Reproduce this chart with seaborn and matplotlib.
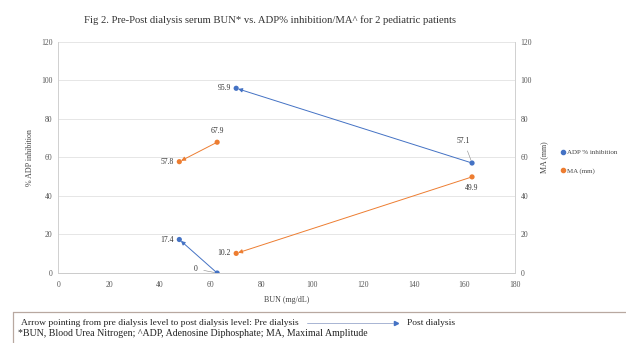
"""Pre/post dialysis BUN vs ADP% inhibition and MA for two pediatric patients."""

import matplotlib
matplotlib.use("Agg")
import matplotlib.pyplot as plt
import pandas as pd
import seaborn as sns

# BUN (mg/dL) pre and post dialysis, per patient
BUN_PRE = [163.0, 62.6]
BUN_POST = [70.1, 47.7]
ADP_PRE = [57.1, 0.0]
ADP_POST = [95.9, 17.4]
MA_PRE = [49.9, 67.9]
MA_POST = [10.2, 57.8]

BLUE = "#4472C4"
ORANGE = "#ED7D31"

sns.set_theme(style="white")
plt.rcParams["font.family"] = ["Liberation Serif", "DejaVu Serif"]

fig = plt.figure(figsize=(6.26, 3.43), dpi=100)
ax = fig.add_axes([0.093, 0.204, 0.730, 0.674])
ax2 = ax.twinx()

adp = pd.DataFrame({"bun": BUN_PRE + BUN_POST, "val": ADP_PRE + ADP_POST})
ma = pd.DataFrame({"bun": BUN_PRE + BUN_POST, "val": MA_PRE + MA_POST})

sns.scatterplot(data=adp, x="bun", y="val", ax=ax, color=BLUE, s=14,
                edgecolor="none", zorder=4)
sns.scatterplot(data=ma, x="bun", y="val", ax=ax2, color=ORANGE, s=14,
                edgecolor="none", zorder=4)

for i in range(2):
    ax.annotate("", xy=(BUN_POST[i], ADP_POST[i]), xytext=(BUN_PRE[i], ADP_PRE[i]),
                arrowprops=dict(arrowstyle="-|>", color=BLUE, lw=0.7,
                                mutation_scale=6, shrinkA=0, shrinkB=1.5))
    ax2.annotate("", xy=(BUN_POST[i], MA_POST[i]), xytext=(BUN_PRE[i], MA_PRE[i]),
                 arrowprops=dict(arrowstyle="-|>", color=ORANGE, lw=0.7,
                                 mutation_scale=6, shrinkA=0, shrinkB=1.5))

lab = dict(fontsize=5.5, color="#333333")
ax.annotate(f"{ADP_POST[0]}", (BUN_POST[0], ADP_POST[0]), xytext=(-4, 0),
            textcoords="offset points", ha="right", va="center", **lab)
ax.annotate(f"{ADP_PRE[0]}", (BUN_PRE[0], ADP_PRE[0]), xytext=(-6, 13),
            textcoords="offset points", ha="center", va="bottom",
            arrowprops=dict(arrowstyle="-", color="#888888", lw=0.4), **lab)
ax.annotate(f"{ADP_POST[1]}", (BUN_POST[1], ADP_POST[1]), xytext=(-4, 0),
            textcoords="offset points", ha="right", va="center", **lab)
ax.annotate(f"{ADP_PRE[1]:g}", (BUN_PRE[1], ADP_PRE[1]), xytext=(-14, 3),
            textcoords="offset points", ha="right", va="center",
            arrowprops=dict(arrowstyle="-", color="#888888", lw=0.4), **lab)
ax2.annotate(f"{MA_PRE[0]}", (BUN_PRE[0], MA_PRE[0]), xytext=(0, -5),
             textcoords="offset points", ha="center", va="top", **lab)
ax2.annotate(f"{MA_POST[0]}", (BUN_POST[0], MA_POST[0]), xytext=(-4, 0),
             textcoords="offset points", ha="right", va="center", **lab)
ax2.annotate(f"{MA_PRE[1]}", (BUN_PRE[1], MA_PRE[1]), xytext=(0, 5),
             textcoords="offset points", ha="center", va="bottom", **lab)
ax2.annotate(f"{MA_POST[1]}", (BUN_POST[1], MA_POST[1]), xytext=(-4, 0),
             textcoords="offset points", ha="right", va="center", **lab)

for a in (ax, ax2):
    a.set_xlim(0, 180)
    a.set_ylim(0, 120)
    a.set_yticks(range(0, 121, 20))
    a.tick_params(labelsize=5.5, colors="#555555", length=0, pad=4)
    for side in ("top", "left", "right", "bottom"):
        a.spines[side].set_color("#d0d0d0")
        a.spines[side].set_linewidth(0.6)
    a.spines["top"].set_visible(False)
ax.set_xticks(range(0, 181, 20))
ax.tick_params(axis="x", pad=6)
ax.yaxis.grid(True, color="#e2e2e2", lw=0.6)
ax.spines["bottom"].set_color("#b0b0b0")

ax.set_xlabel("BUN (mg/dL)", fontsize=5.8, color="#444444", labelpad=5)
ax.set_ylabel("% ADP inhibition", fontsize=5.8, color="#444444", labelpad=5)
ax2.set_ylabel("MA (mm)", fontsize=5.8, color="#444444", labelpad=6)

handles = [
    plt.Line2D([], [], marker="o", ls="", color=BLUE, markersize=3),
    plt.Line2D([], [], marker="o", ls="", color=ORANGE, markersize=3),
]
fig.legend(handles, ["ADP % inhibition", "MA (mm)"], loc="center left",
           bbox_to_anchor=(0.885, 0.528), frameon=False, fontsize=5,
           handletextpad=0.1, labelspacing=1.8, handlelength=0.8,
           labelcolor="#444444")

fig.text(0.432, 0.94,
         "Fig 2. Pre-Post dialysis serum BUN* vs. ADP% inhibition/MA^ for 2 pediatric patients",
         ha="center", va="center", fontsize=7.7, color="#333333")

# footer box
fig.add_artist(plt.Line2D([0.021, 1.0], [0.090, 0.090], color="#b8a8a0", lw=0.9))
fig.add_artist(plt.Line2D([0.021, 0.021], [0.0, 0.090], color="#b8a8a0", lw=0.9))
fig.text(0.034, 0.058,
         "Arrow pointing from pre dialysis level to post dialysis level: Pre dialysis",
         ha="left", va="center", fontsize=6.8, color="#222222")
fig.add_artist(plt.Line2D([0.490, 0.628], [0.058, 0.058], color="#9aa8cc", lw=0.6))
fig.add_artist(plt.Line2D([0.632], [0.058], marker=">", color=BLUE, markersize=3))
fig.text(0.650, 0.058, "Post dialysis", ha="left", va="center", fontsize=6.8,
         color="#222222")
fig.text(0.029, 0.029,
         "*BUN, Blood Urea Nitrogen; ^ADP, Adenosine Diphosphate; MA, Maximal Amplitude",
         ha="left", va="center", fontsize=7.1, color="#222222")

fig.savefig("out.png", dpi=100)
